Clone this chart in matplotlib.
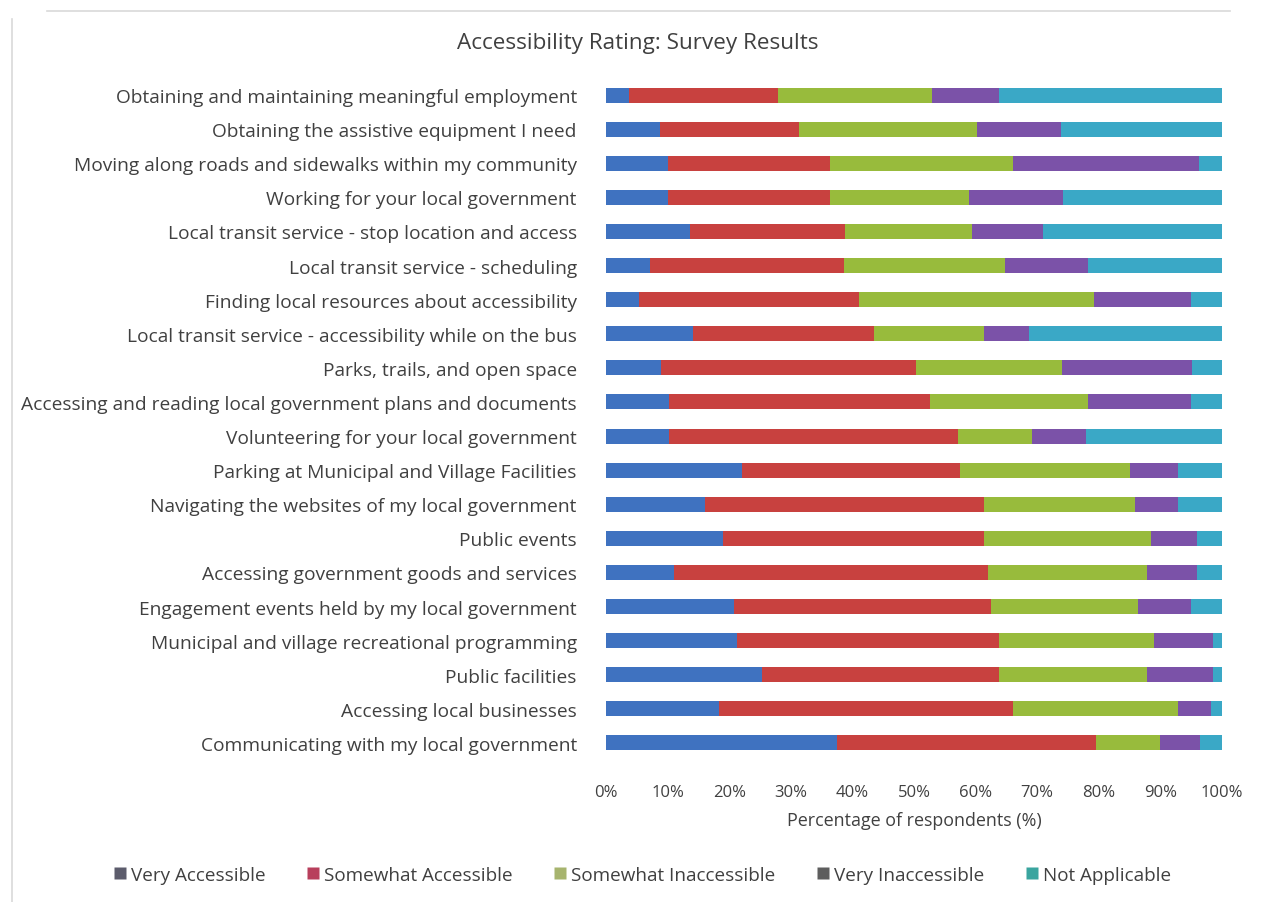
import matplotlib
matplotlib.use("Agg")
import matplotlib.pyplot as plt
from matplotlib.lines import Line2D
import numpy as np

plt.rcParams['font.family'] = ['Open Sans', 'DejaVu Sans']

categories = [
    "Obtaining and maintaining meaningful employment",
    "Obtaining the assistive equipment I need",
    "Moving along roads and sidewalks within my community",
    "Working for your local government",
    "Local transit service - stop location and access",
    "Local transit service - scheduling",
    "Finding local resources about accessibility",
    "Local transit service - accessibility while on the bus",
    "Parks, trails, and open space",
    "Accessing and reading local government plans and documents",
    "Volunteering for your local government",
    "Parking at Municipal and Village Facilities",
    "Navigating the websites of my local government",
    "Public events",
    "Accessing government goods and services",
    "Engagement events held by my local government",
    "Municipal and village recreational programming",
    "Public facilities",
    "Accessing local businesses",
    "Communicating with my local government",
]

series_names = ["Very Accessible", "Somewhat Accessible", "Somewhat Inaccessible",
                "Very Inaccessible", "Not Applicable"]

very_accessible = [3.8, 8.7, 10.1, 10.1, 13.6, 7.2, 5.3, 14.2, 8.9, 10.2,
                   10.2, 22.1, 16.0, 19.0, 11.0, 20.8, 21.3, 25.3, 18.3, 37.5]
somewhat_accessible = [24.1, 22.6, 26.2, 26.2, 25.2, 31.4, 35.8, 29.3, 41.5, 42.4,
                       46.9, 35.4, 45.4, 42.4, 51.0, 41.7, 42.5, 38.5, 47.8, 42.0]
somewhat_inaccessible = [25.0, 28.9, 29.8, 22.7, 20.7, 26.1, 38.2, 17.9, 23.6, 25.6,
                         12.0, 27.6, 24.5, 27.0, 25.8, 23.8, 25.2, 24.0, 26.8, 10.4]
very_inaccessible = [10.9, 13.7, 30.1, 15.2, 11.4, 13.5, 15.6, 7.2, 21.2, 16.8,
                     8.9, 7.8, 7.0, 7.6, 8.2, 8.6, 9.5, 10.7, 5.4, 6.5]
not_applicable = [36.2, 26.1, 3.8, 25.8, 29.1, 21.8, 5.1, 31.4, 4.8, 5.0,
                  22.0, 7.1, 7.1, 4.0, 4.0, 5.1, 1.5, 1.5, 1.7, 3.6]

bar_colors = ["#3f72c0", "#c8413f", "#98bb3c", "#7b52a8", "#3aa8c6"]
legend_colors = ["#5c5c6c", "#b83f5c", "#a7b46e", "#5e5e5e", "#3aa59f"]

text_color = "#404040"

fig = plt.figure(figsize=(12.63, 9.03), dpi=100)
fig.patch.set_facecolor("white")
ax = fig.add_axes([0.4798, 0.1573, 0.4877, 0.7552])

y = np.arange(len(categories))
left = np.zeros(len(categories))
for vals, col in zip([very_accessible, somewhat_accessible, somewhat_inaccessible,
                      very_inaccessible, not_applicable], bar_colors):
    v = np.array(vals)
    ax.barh(y, v, left=left, height=0.44, color=col, edgecolor="none")
    left += v

ax.set_xlim(0, 100)
ax.set_ylim(len(categories) - 0.5, -0.5)
ax.set_yticks(y)
ax.set_yticklabels(categories, fontsize=13.8, color=text_color)
ax.set_xticks(np.arange(0, 101, 10))
ax.set_xticklabels([f"{t}%" for t in range(0, 101, 10)], fontsize=12, color=text_color)
ax.tick_params(axis="both", length=0)
ax.tick_params(axis="y", pad=21)
ax.tick_params(axis="x", pad=17)
for s in ax.spines.values():
    s.set_visible(False)
ax.set_xlabel("Percentage of respondents (%)", fontsize=12.9, color=text_color, labelpad=8)

fig.text(0.505, 0.952, "Accessibility Rating: Survey Results", ha="center", va="center",
         fontsize=16.2, color=text_color)

handles = [Line2D([0], [0], marker="s", linestyle="none", markersize=8,
                  markerfacecolor=c, markeredgecolor="none") for c in legend_colors]
fig.legend(handles, series_names, loc="center", bbox_to_anchor=(0.508, 0.030),
           ncol=5, frameon=False, fontsize=13.6, labelcolor=text_color,
           handletextpad=0.2, columnspacing=2.1, handlelength=0.8)

# light frame lines around the chart area
fig.add_artist(Line2D([47 / 1263, 1230 / 1263], [1 - 12 / 903, 1 - 12 / 903],
                      color="#d9d9d9", lw=1.2, transform=fig.transFigure))
fig.add_artist(Line2D([12 / 1263, 12 / 1263], [1 - 20 / 903, 0],
                      color="#d9d9d9", lw=1.2, transform=fig.transFigure))

fig.savefig("out.png", dpi=100, facecolor="white")
